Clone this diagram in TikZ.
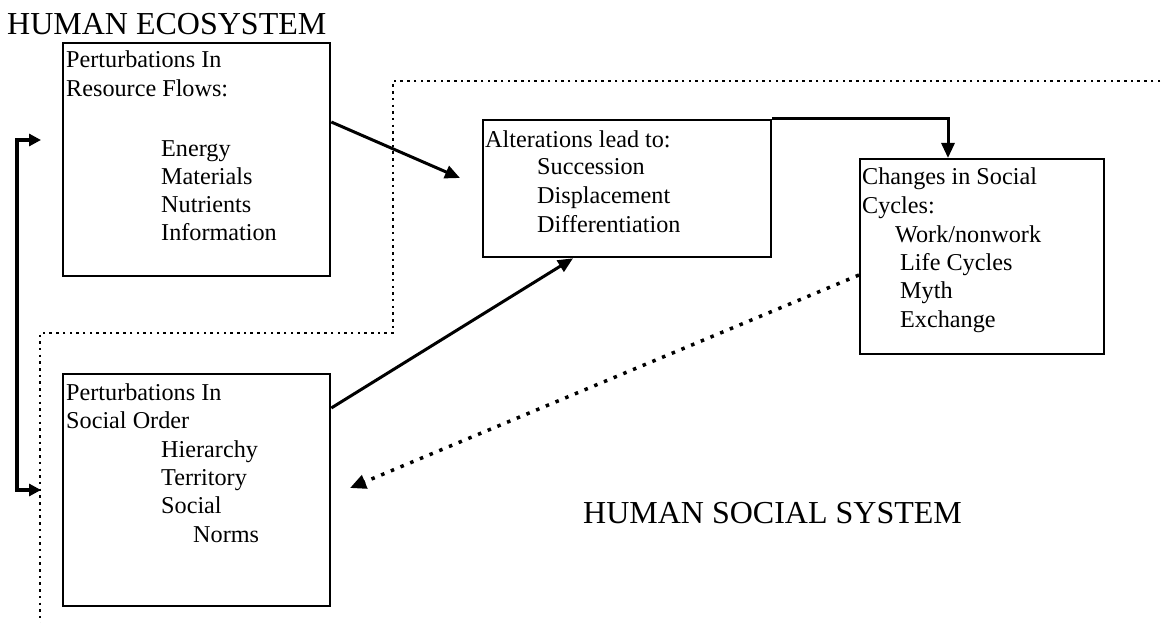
\documentclass[tikz,border=0pt]{standalone}
\usepackage{fontspec}
\setmainfont{Liberation Serif}
\usetikzlibrary{arrows.meta,calc}
\begin{document}
\begin{tikzpicture}[x=1pt,y=-1pt,
  box/.style={draw,line width=2.3pt,inner sep=0pt,anchor=north west},
  txt/.style={inner sep=0pt,anchor=base west,font=\fontsize{24.2}{28}\selectfont},
  big/.style={inner sep=0pt,anchor=base west,font=\fontsize{32}{36}\selectfont},
  flow/.style={line width=3pt,-{Triangle[length=15pt,width=13pt]}},
  border/.style={line width=2.5pt,dash pattern=on 2.5pt off 4.2pt},
  feedback/.style={line width=3.5pt,dash pattern=on 3.5pt off 7pt,-{Triangle[length=16pt,width=14pt]}}]
\useasboundingbox (0,0) rectangle (1162,623);

% titles
\node[big] (t0) at (7,35) {HUMAN ECOSYSTEM};
\node[big] (t9) at (583,523) {HUMAN SOCIAL SYSTEM};

% boxes
\node[box,minimum width=267pt,minimum height=233pt] (b1) at (62,42) {};
\node[box,minimum width=267pt,minimum height=232pt] (b2) at (62,373) {};
\node[box,minimum width=288pt,minimum height=137pt] (b3) at (482,119) {};
\node[box,minimum width=244pt,minimum height=195pt] (b4) at (859,158) {};

% box 1 text
\node[txt] (b1l1) at (66,68) {Perturbations In};
\node[txt] (b1l2) at (66,97) {Resource Flows:};
\node[txt] (b1l3) at (161,157) {Energy};
\node[txt] (b1l4) at (161,184) {Materials};
\node[txt] (b1l5) at (161,212) {Nutrients};
\node[txt] (b1l6) at (161,240) {Information};

% box 2 text
\node[txt] (b2l1) at (66,400) {Perturbations In};
\node[txt] (b2l2) at (66,428) {Social Order};
\node[txt] (b2l3) at (161,457) {Hierarchy};
\node[txt] (b2l4) at (161,485) {Territory};
\node[txt] (b2l5) at (161,513) {Social};
\node[txt] (b2l6) at (193,542) {Norms};

% box 3 text
\node[txt] (b3l1) at (485,147) {Alterations lead to:};
\node[txt] (b3l2) at (537,175) {Succession};
\node[txt] (b3l3) at (537,203) {Displacement};
\node[txt] (b3l4) at (537,232) {Differentiation};

% box 4 text
\node[txt] (b4l1) at (862,185) {Changes in Social};
\node[txt] (b4l2) at (862,213) {Cycles:};
\node[txt] (b4l3) at (895,242) {Work/nonwork};
\node[txt] (b4l4) at (900,270) {Life Cycles};
\node[txt] (b4l5) at (900,298) {Myth};
\node[txt] (b4l6) at (900,327) {Exchange};

% coordinates
\coordinate (a1s) at ($(b1.north east)+(0,80)$);
\coordinate (a1e) at (460,178);
\coordinate (a2s) at ($(b2.north east)+(0,35)$);
\coordinate (a2e) at (b3.south west -| 573,0);
\coordinate (a3m) at (948,119);
\coordinate (a3e) at (b4.north west -| a3m);
\coordinate (fbs) at ($(b4.north west)+(0,117)$);
\coordinate (fbe) at (350,488);
\coordinate (brt) at (41,140);
\coordinate (brb) at (41,490);
\coordinate (bt) at (17,140);
\coordinate (bb) at (17,490);
\coordinate (d1) at (1160,81);
\coordinate (d2) at (393,81);
\coordinate (d3) at (393,333);
\coordinate (d4) at (40,333);
\coordinate (d5) at (40,623);

% connectors
\draw[flow] (a1s) -- (a1e);
\draw[flow] (a2s) -- (a2e);
\draw[flow] (b3.north east) -- (a3m) -- (a3e);
\draw[feedback] (fbs) -- (fbe);
\draw[line width=3.5pt,{Triangle[length=12pt,width=12pt]}-{Triangle[length=12pt,width=12pt]}] (brt) -- (bt) -- (bb) -- (brb);

% system boundary
\draw[border] (d1) -- (d2) -- (d3) -- (d4) -- (d5);
\end{tikzpicture}
\end{document}
